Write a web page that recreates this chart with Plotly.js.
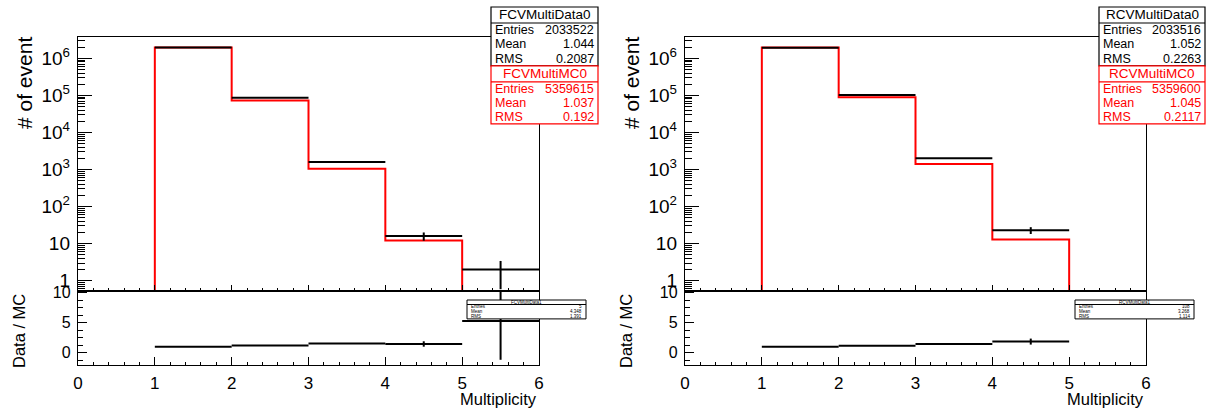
<!DOCTYPE html>
<html><head><meta charset="utf-8">
<script src="https://cdn.plot.ly/plotly-3.0.1.min.js"></script>
<style>html,body{margin:0;padding:0;background:#fff}#chart{width:1206px;height:412px}</style>
</head><body><div id="chart"></div>
<script>
// ---- data ----
const binLow = [1, 2, 3, 4, 5];
const binWidth = 1;

const fcvData    = [1945685, 86219, 1600, 16, 2];
const fcvDataErr = [1395, 294, 40, 4, 1.41];
const fcvMC      = [1959000, 73100, 1040, 12.1, 0.38];
const fcvRatio   = [0.99, 1.18, 1.55, 1.45, 5.27];
const fcvRatioErr= [0.002, 0.01, 0.05, 0.45, 6.45];

const rcvData    = [1929819, 101674, 2000, 23, 0];
const rcvDataErr = [1389, 319, 45, 4.8, 0];
const rcvMC      = [1943400, 88670, 1400, 12.9, 0];
const rcvRatio   = [0.99, 1.15, 1.43, 1.85, 0];
const rcvRatioErr= [0.002, 0.01, 0.04, 0.5, 0];

const statLabels = ["Entries", "Mean", "RMS"];
const fcvDataName = "FCVMultiData0", fcvDataStats = ["2033522", "1.044", "0.2087"];
const fcvMCName   = "FCVMultiMC0",   fcvMCStats   = ["5359615", "1.037", "0.192"];
const rcvDataName = "RCVMultiData0", rcvDataStats = ["2033516", "1.052", "0.2263"];
const rcvMCName   = "RCVMultiMC0",   rcvMCStats   = ["5359600", "1.045", "0.2117"];
const fcvRatioName = "FCVMultiData1", fcvRatioStats = ["5", "4.348", "1.391"];
const rcvRatioName = "RCVMultiData1", rcvRatioStats = ["108", "3.268", "1.114"];

const xTickVals = [0, 1, 2, 3, 4, 5, 6];
const logTickVals = [1, 10, 100, 1000, 10000, 100000, 1000000];
const logTickText = ["1", "10", "10<sup>2</sup>", "10<sup>3</sup>", "10<sup>4</sup>", "10<sup>5</sup>", "10<sup>6</sup>"];
const ratioTickVals = [0, 5, 10];
const yTitle = "# of event", ratioTitle = "Data / MC", xTitle = "Multiplicity";

// ---- layout geometry (pixels) ----
const W = 1206, H = 412;
const FONT = "Liberation Sans, Arial, Helvetica, sans-serif";
const PX = x => x / W, PY = y => 1 - y / H;
const panels = [{x0: 78, x1: 539}, {x0: 685, x1: 1146}];
const topY0 = 37, topY1 = 291, botY1 = 365;

const minorLog = [];
for (let d = -1; d <= 6; d++) for (let m = 2; m <= 9; m++) minorLog.push(m * Math.pow(10, d));

function xAxis(i, bottom, anchor) {
  const p = panels[i];
  return {
    domain: [PX(p.x0), PX(p.x1)], range: [0, 6], anchor,
    showline: true, mirror: true, linecolor: '#000', linewidth: 1.2,
    showgrid: false, zeroline: false,
    tickmode: 'array', tickvals: xTickVals, ticks: 'inside', ticklen: bottom ? 8 : 6, tickcolor: '#000', tickwidth: 1,
    showticklabels: !!bottom, tickfont: {family: FONT, size: 17, color: '#000'}, ticklabelstandoff: 2,
    minor: {ticks: 'inside', tick0: 0, dtick: 0.2, ticklen: 3.5, tickcolor: '#000', tickwidth: 1, showgrid: false}
  };
}
function yLogAxis(anchor) {
  return {
    domain: [PY(topY1), PY(topY0)], type: 'log', range: [-0.278, 6.575], anchor,
    showline: true, mirror: true, linecolor: '#000', linewidth: 1.2, showgrid: false, zeroline: false,
    tickmode: 'array', tickvals: logTickVals, ticktext: logTickText,
    ticks: 'inside', ticklen: 14, tickcolor: '#000', tickwidth: 1,
    tickfont: {family: FONT, size: 19, color: '#000'}, ticklabelstandoff: 3,
    minor: {tickmode: 'array', tickvals: minorLog, ticks: 'inside', ticklen: 7, tickcolor: '#000', tickwidth: 1, showgrid: false}
  };
}
function yRatioAxis(anchor) {
  return {
    domain: [PY(botY1), PY(topY1)], range: [-2.05, 10.28], anchor,
    showline: true, mirror: true, linecolor: '#000', linewidth: 1.2, showgrid: false, zeroline: false,
    tickmode: 'array', tickvals: ratioTickVals, ticks: 'inside', ticklen: 9, tickcolor: '#000', tickwidth: 1,
    tickfont: {family: FONT, size: 16, color: '#000'}, ticklabelstandoff: 3,
    minor: {ticks: 'inside', tick0: 0, dtick: 1.25, ticklen: 5, tickcolor: '#000', tickwidth: 1, showgrid: false}
  };
}

function panelTraces(data, dataErr, mc, ratio, ratioErr, xa, ya, xr, yr) {
  const floorV = 1e-3, last = binLow.length - 1;
  const mx = [binLow[0]], my = [floorV];
  binLow.forEach((lo, i) => { mx.push(lo); my.push(mc[i] > 0 ? mc[i] : floorV); });
  mx.push(binLow[last] + binWidth); my.push(floorV);
  const mcTrace = {type: 'scatter', mode: 'lines', x: mx, y: my, xaxis: xa, yaxis: ya,
    line: {color: '#ff0000', width: 2, shape: 'hv'}, hoverinfo: 'skip'};
  function pts(vals, errs, xax, yax) {
    const x = [], y = [], ex = [], ey = [];
    binLow.forEach((lo, i) => { if (vals[i] > 0) { x.push(lo + binWidth / 2); y.push(vals[i]); ex.push(binWidth / 2); ey.push(errs[i]); } });
    return {type: 'scatter', mode: 'markers', x, y, xaxis: xax, yaxis: yax,
      marker: {size: 2, color: '#000', opacity: 0},
      error_x: {type: 'data', array: ex, visible: true, width: 0, thickness: 2, color: '#000'},
      error_y: {type: 'data', array: ey, visible: true, width: 0, thickness: 2, color: '#000'}, hoverinfo: 'skip'};
  }
  return [mcTrace, pts(data, dataErr, xa, ya), pts(ratio, ratioErr, xr, yr)];
}

const traces = [
  ...panelTraces(fcvData, fcvDataErr, fcvMC, fcvRatio, fcvRatioErr, 'x', 'y', 'x2', 'y2'),
  ...panelTraces(rcvData, rcvDataErr, rcvMC, rcvRatio, rcvRatioErr, 'x3', 'y3', 'x4', 'y4')
];

const shapes = [], annotations = [];
function rect(x0, y0, x1, y1, color, lw) {
  shapes.push({type: 'rect', xref: 'paper', yref: 'paper', x0: PX(x0), x1: PX(x1), y0: PY(y1), y1: PY(y0),
    line: {color, width: lw}, fillcolor: '#fff', layer: 'above'});
}
function hline(x0, x1, y, color, lw) {
  shapes.push({type: 'line', xref: 'paper', yref: 'paper', x0: PX(x0), x1: PX(x1), y0: PY(y), y1: PY(y),
    line: {color, width: lw}, layer: 'above'});
}
function txt(t, x, y, anchor, size, color) {
  annotations.push({text: t, xref: 'paper', yref: 'paper', x: PX(x), y: PY(y), xanchor: anchor, yanchor: 'middle',
    showarrow: false, font: {family: FONT, size, color}, borderpad: 0});
}
function statBox(x0, x1, y0, name, vals, color, headH, rowH, fsH, fsR, lw) {
  const y1 = y0 + headH + rowH * 3;
  rect(x0, y0, x1, y1, color, lw);
  hline(x0, x1, y0 + headH, color, lw);
  txt(name, (x0 + x1) / 2, y0 + headH / 2, 'center', fsH, color);
  statLabels.forEach((l, k) => {
    const yc = y0 + headH + rowH * (k + 0.5);
    txt(l, x0 + 3, yc, 'left', fsR, color);
    txt(vals[k], x1 - 3, yc, 'right', fsR, color);
  });
  return y1;
}
// top stats boxes
let yb = statBox(491, 598, 7, fcvDataName, fcvDataStats, '#000', 16, 14.3, 13.5, 12.5, 1.2);
statBox(491, 598, yb, fcvMCName, fcvMCStats, '#ff0000', 16, 14, 13.5, 12.5, 1.2);
yb = statBox(1099, 1205, 7, rcvDataName, rcvDataStats, '#000', 16, 14.3, 13.5, 12.5, 1.2);
statBox(1099, 1205, yb, rcvMCName, rcvMCStats, '#ff0000', 16, 14, 13.5, 12.5, 1.2);
// ratio stats boxes
statBox(467, 586, 300, fcvRatioName, fcvRatioStats, '#000', 4.5, 4.8, 4.5, 4.5, 1);
statBox(1075, 1194, 300, rcvRatioName, rcvRatioStats, '#000', 4.5, 4.8, 4.5, 4.5, 1);

// axis titles
panels.forEach(p => {
  annotations.push({text: yTitle, xref: 'paper', yref: 'paper', x: PX(p.x0 - 53), y: PY(35), xanchor: 'center', yanchor: 'top',
    showarrow: false, textangle: -90, font: {family: FONT, size: 21, color: '#000'}});
  annotations.push({text: ratioTitle, xref: 'paper', yref: 'paper', x: PX(p.x0 - 59), y: PY(292), xanchor: 'center', yanchor: 'top',
    showarrow: false, textangle: -90, font: {family: FONT, size: 16.5, color: '#000'}});
  annotations.push({text: xTitle, xref: 'paper', yref: 'paper', x: PX(p.x1), y: PY(399), xanchor: 'right', yanchor: 'middle',
    showarrow: false, font: {family: FONT, size: 16.5, color: '#000'}});
});

const layout = {
  width: W, height: H, margin: {l: 0, r: 0, t: 0, b: 0},
  paper_bgcolor: '#fff', plot_bgcolor: '#fff', showlegend: false,
  xaxis: xAxis(0, false, 'y'), yaxis: yLogAxis('x'),
  xaxis2: xAxis(0, true, 'y2'), yaxis2: yRatioAxis('x2'),
  xaxis3: xAxis(1, false, 'y3'), yaxis3: yLogAxis('x3'),
  xaxis4: xAxis(1, true, 'y4'), yaxis4: yRatioAxis('x4'),
  shapes, annotations
};
Plotly.newPlot('chart', traces, layout, {staticPlot: true, displayModeBar: false});
</script>
</body></html>
